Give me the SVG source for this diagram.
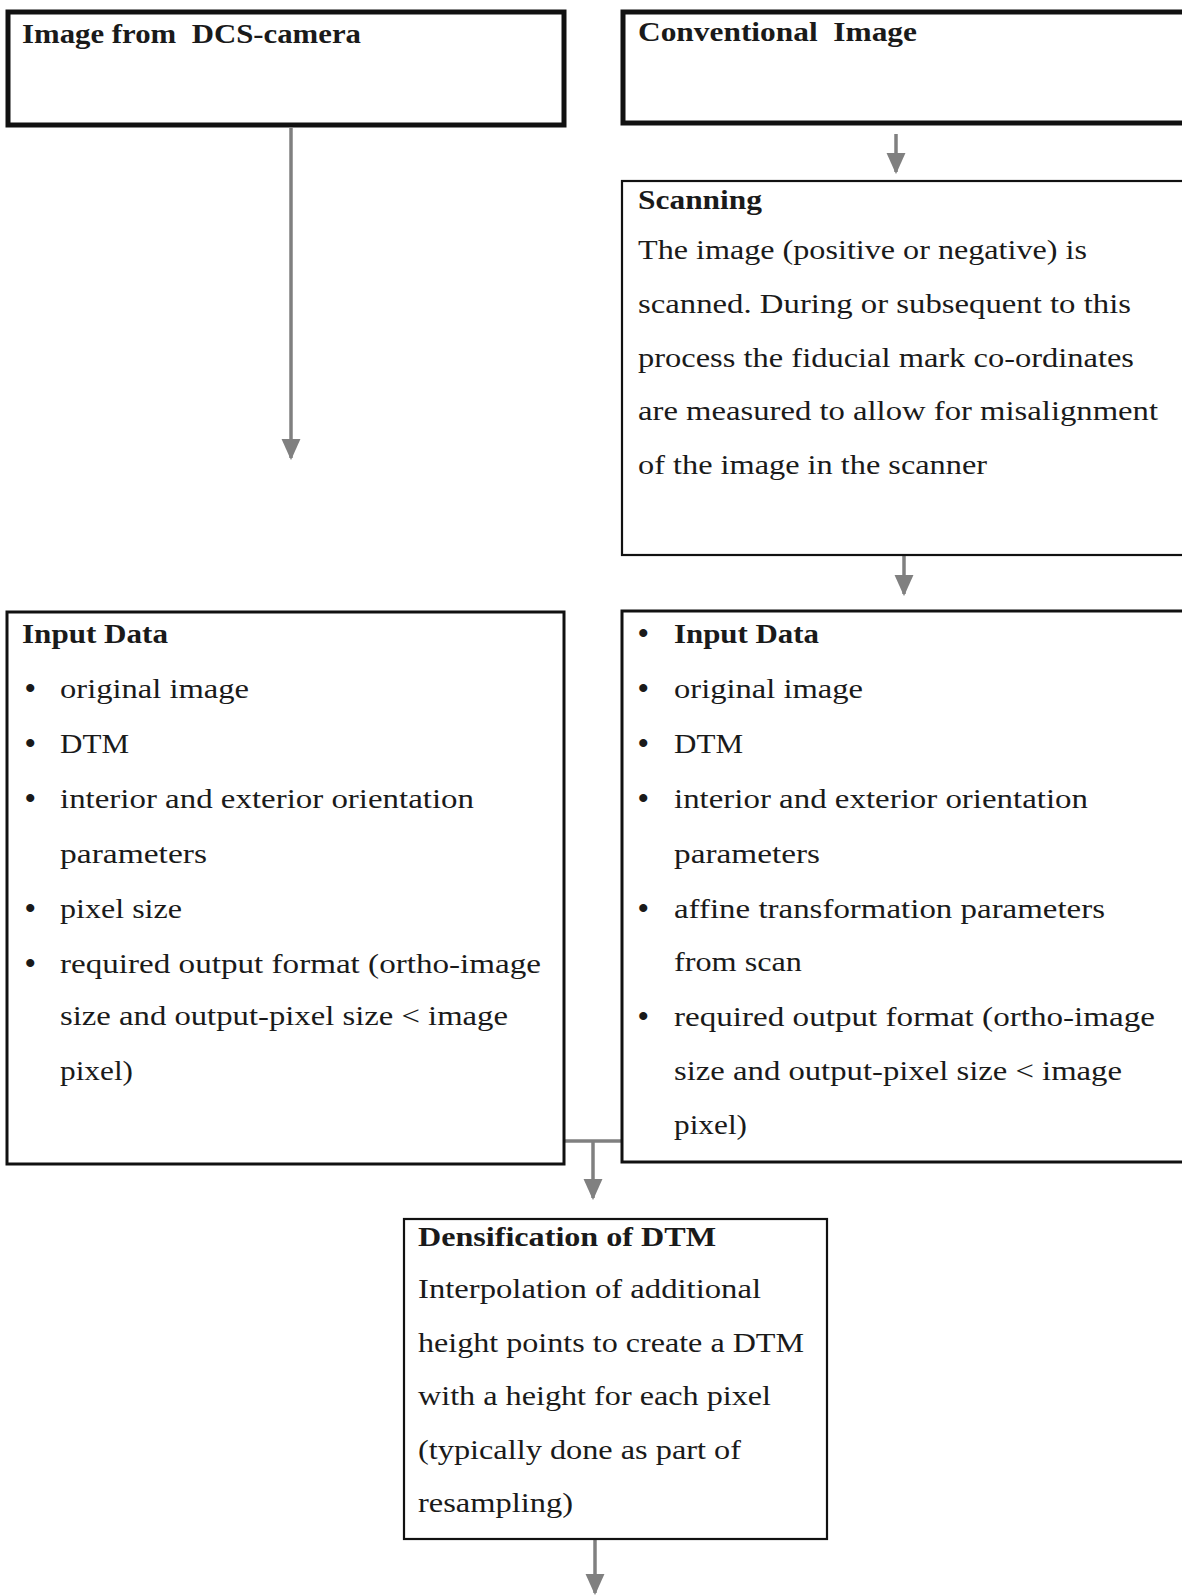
<svg xmlns="http://www.w3.org/2000/svg" width="1182" height="1595" viewBox="0 0 1182 1595">
<style>
.box{fill:#fff;stroke:#111}
.thick{stroke-width:5}
.mid{stroke-width:3}
.thin{stroke-width:2.2}
text{font-family:"Liberation Serif","Times New Roman",serif;font-size:28px;fill:#1a1a1a}
.t{font-weight:bold}
.pre{white-space:pre}
.b{font-weight:bold;font-size:30px}
.con{stroke:#808080;stroke-width:3.5;fill:none}
</style>
<defs>
<marker id="a" viewBox="0 0 10 10" refX="9" refY="5" markerWidth="6" markerHeight="6" orient="auto">
<path d="M0,0.5 L10,5 L0,9.5 z" fill="#808080"/>
</marker>
</defs>
<rect width="1182" height="1595" fill="#fff"/>
<g id="connectors">
<line class="con" x1="291" y1="128" x2="291" y2="458" marker-end="url(#a)"/>
<line class="con" x1="896" y1="134" x2="896" y2="172" marker-end="url(#a)"/>
<line class="con" x1="904" y1="556" x2="904" y2="594" marker-end="url(#a)"/>
<line class="con" x1="565" y1="1141" x2="621" y2="1141"/>
<line class="con" x1="593" y1="1141" x2="593" y2="1198" marker-end="url(#a)"/>
<line class="con" x1="595" y1="1540" x2="595" y2="1593" marker-end="url(#a)"/>
</g>
<g id="dcs">
<rect class="box thick" x="8" y="12" width="556" height="113"/>
<text class="t pre" x="22" y="43" textLength="339" lengthAdjust="spacingAndGlyphs">Image from  DCS-camera</text>
</g>
<g id="conventional">
<rect class="box thick" x="623" y="12" width="570" height="111"/>
<text class="t pre" x="638" y="41" textLength="279" lengthAdjust="spacingAndGlyphs">Conventional  Image</text>
</g>
<g id="scanning">
<rect class="box thin" x="622" y="181" width="570" height="374"/>
<text class="t" x="638" y="209" textLength="124" lengthAdjust="spacingAndGlyphs">Scanning</text>
<text x="638" y="259" textLength="449" lengthAdjust="spacingAndGlyphs">The image (positive or negative) is</text>
<text x="638" y="313" textLength="493" lengthAdjust="spacingAndGlyphs">scanned. During or subsequent to this</text>
<text x="638" y="367" textLength="496" lengthAdjust="spacingAndGlyphs">process the fiducial mark co-ordinates</text>
<text x="638" y="420" textLength="520" lengthAdjust="spacingAndGlyphs">are measured to allow for misalignment</text>
<text x="638" y="474" textLength="349" lengthAdjust="spacingAndGlyphs">of the image in the scanner</text>
</g>
<g id="input-left">
<rect class="box mid" x="7" y="612" width="557" height="552"/>
<text class="t" x="22" y="643" textLength="146" lengthAdjust="spacingAndGlyphs">Input Data</text>
<text class="b" x="25" y="698">•</text><text x="60" y="698" textLength="189" lengthAdjust="spacingAndGlyphs">original image</text>
<text class="b" x="25" y="753">•</text><text x="60" y="753" textLength="69" lengthAdjust="spacingAndGlyphs">DTM</text>
<text class="b" x="25" y="808">•</text><text x="60" y="808" textLength="414" lengthAdjust="spacingAndGlyphs">interior and exterior orientation</text>
<text x="60" y="863" textLength="147" lengthAdjust="spacingAndGlyphs">parameters</text>
<text class="b" x="25" y="918">•</text><text x="60" y="918" textLength="122" lengthAdjust="spacingAndGlyphs">pixel size</text>
<text class="b" x="25" y="973">•</text><text x="60" y="973" textLength="481" lengthAdjust="spacingAndGlyphs">required output format (ortho-image</text>
<text x="60" y="1025" textLength="448" lengthAdjust="spacingAndGlyphs">size and output-pixel size &lt; image</text>
<text x="60" y="1080" textLength="73" lengthAdjust="spacingAndGlyphs">pixel)</text>
</g>
<g id="input-right">
<rect class="box mid" x="622" y="611" width="570" height="551"/>
<text class="b" x="638" y="643">•</text><text class="t" x="674" y="643" textLength="145" lengthAdjust="spacingAndGlyphs">Input Data</text>
<text class="b" x="638" y="698">•</text><text x="674" y="698" textLength="189" lengthAdjust="spacingAndGlyphs">original image</text>
<text class="b" x="638" y="753">•</text><text x="674" y="753" textLength="69" lengthAdjust="spacingAndGlyphs">DTM</text>
<text class="b" x="638" y="808">•</text><text x="674" y="808" textLength="414" lengthAdjust="spacingAndGlyphs">interior and exterior orientation</text>
<text x="674" y="863" textLength="146" lengthAdjust="spacingAndGlyphs">parameters</text>
<text class="b" x="638" y="918">•</text><text x="674" y="918" textLength="431" lengthAdjust="spacingAndGlyphs">affine transformation parameters</text>
<text x="674" y="971" textLength="128" lengthAdjust="spacingAndGlyphs">from scan</text>
<text class="b" x="638" y="1026">•</text><text x="674" y="1026" textLength="481" lengthAdjust="spacingAndGlyphs">required output format (ortho-image</text>
<text x="674" y="1080" textLength="448" lengthAdjust="spacingAndGlyphs">size and output-pixel size &lt; image</text>
<text x="674" y="1134" textLength="73" lengthAdjust="spacingAndGlyphs">pixel)</text>
</g>
<g id="densification">
<rect class="box thin" x="404" y="1219" width="423" height="320"/>
<text class="t" x="418" y="1246" textLength="298" lengthAdjust="spacingAndGlyphs">Densification of DTM</text>
<text x="418" y="1298" textLength="343" lengthAdjust="spacingAndGlyphs">Interpolation of additional</text>
<text x="418" y="1352" textLength="386" lengthAdjust="spacingAndGlyphs">height points to create a DTM</text>
<text x="418" y="1405" textLength="353" lengthAdjust="spacingAndGlyphs">with a height for each pixel</text>
<text x="418" y="1459" textLength="323" lengthAdjust="spacingAndGlyphs">(typically done as part of</text>
<text x="418" y="1512" textLength="155" lengthAdjust="spacingAndGlyphs">resampling)</text>
</g>
</svg>
